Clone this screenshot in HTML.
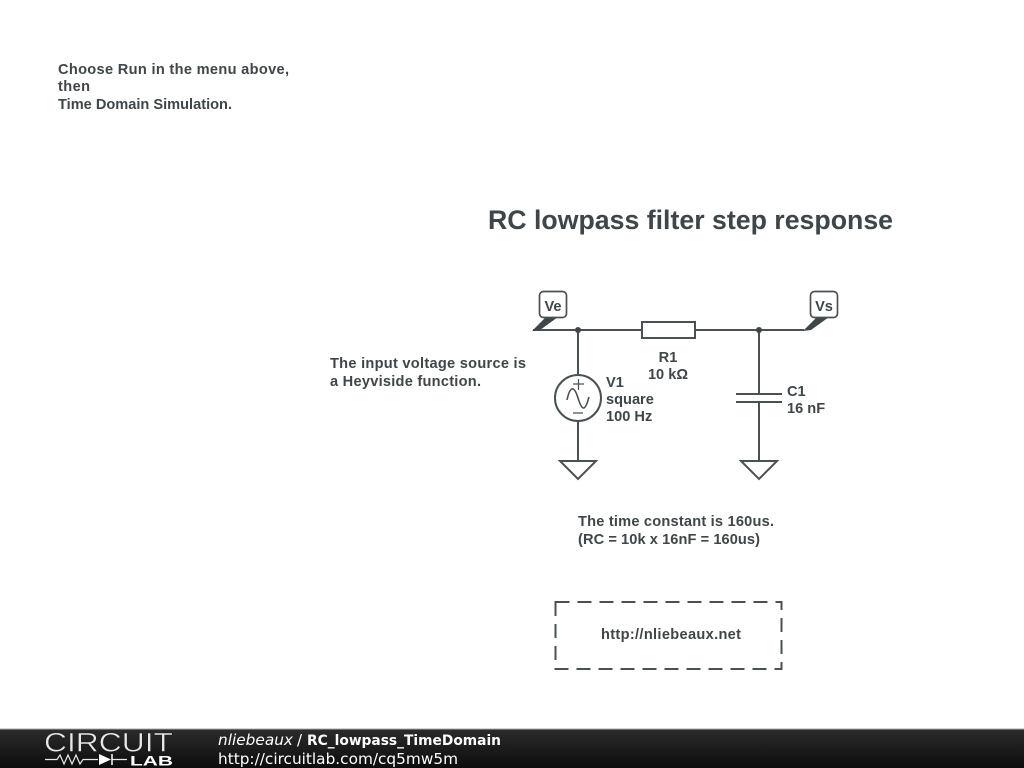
<!DOCTYPE html>
<html><head><meta charset="utf-8"><style>
html,body{margin:0;padding:0;background:#fff}
svg{display:block;filter:blur(0.35px)}
.t{font-family:"Liberation Sans",sans-serif;font-weight:bold;font-size:14.6px;fill:#3f4649}
.w{stroke:#4a5154;stroke-width:2;fill:none}
</style></head><body>
<svg width="1024" height="768" viewBox="0 0 1024 768" xmlns="http://www.w3.org/2000/svg">
<defs><linearGradient id="g" x1="0" y1="0" x2="0" y2="1"><stop offset="0" stop-color="#2c2c2c"/><stop offset="1" stop-color="#0c0c0c"/></linearGradient></defs>
<rect width="1024" height="768" fill="#fff"/>
<text class="t" x="58" y="74" textLength="231">Choose Run in the menu above,</text>
<text class="t" x="58" y="91" textLength="32">then</text>
<text class="t" x="58" y="109" textLength="174">Time Domain Simulation.</text>
<text class="t" x="488" y="229" style="font-size:26.7px" textLength="405">RC lowpass filter step response</text>
<text class="t" x="330" y="368" textLength="196">The input voltage source is</text>
<text class="t" x="330" y="386" textLength="151">a Heyviside function.</text>
<!-- wires -->
<path class="w" d="M533 330H642M695 330H804M578 330V376M578 421V461M759 330V393M759 403V461"/>
<rect class="w" x="642" y="322" width="53" height="16"/>
<circle cx="578" cy="330" r="3" fill="#3f4649"/>
<circle cx="759" cy="330" r="3" fill="#3f4649"/>
<!-- source -->
<circle class="w" cx="578" cy="398" r="23"/>
<path d="M567 400C570 386 574 385 578 398S585 412 589 397" fill="none" stroke="#4a5154" stroke-width="1.600"/>
<path d="M573 384H584M578.500 379V390M573 413H583" fill="none" stroke="#4a5154" stroke-width="1.200"/>
<!-- cap -->
<path class="w" d="M736 394H782M736 402H782"/>
<!-- grounds -->
<path class="w" d="M560 461H596L578 479Z"/>
<path class="w" d="M741 461H777L759 479Z"/>
<!-- tags -->
<path d="M532 331L546 317H558L540 330Z" fill="#3f4649"/>
<rect x="539.500" y="291.500" width="27" height="26" rx="4" fill="#fff" stroke="#4a5154" stroke-width="1.700"/>
<text class="t" x="553" y="311" text-anchor="middle">Ve</text>
<path d="M803 331L817 317H829L811 330Z" fill="#3f4649"/>
<rect x="810.500" y="291.500" width="27" height="26" rx="4" fill="#fff" stroke="#4a5154" stroke-width="1.700"/>
<text class="t" x="824" y="311" text-anchor="middle">Vs</text>
<!-- labels -->
<text class="t" x="668" y="362" text-anchor="middle">R1</text>
<text class="t" x="668" y="379" text-anchor="middle">10 kΩ</text>
<text class="t" x="606" y="387">V1</text>
<text class="t" x="606" y="404">square</text>
<text class="t" x="606" y="421">100 Hz</text>
<text class="t" x="787" y="396">C1</text>
<text class="t" x="787" y="413">16 nF</text>
<text class="t" x="578" y="526" textLength="196">The time constant is 160us.</text>
<text class="t" x="578" y="544" textLength="182">(RC = 10k x 16nF = 160us)</text>
<!-- dashed box -->
<rect x="555.500" y="602" width="226" height="67" fill="none" stroke="#4a5154" stroke-width="2" stroke-dasharray="14 8"/>
<text class="t" x="601" y="639" textLength="140">http://nliebeaux.net</text>
<!-- footer -->
<rect x="0" y="729" width="1024" height="39" fill="url(#g)"/>
<rect x="0" y="728.500" width="1024" height="1" fill="#aaa"/>
<text x="44" y="751.500" style="font-family:'Liberation Sans',sans-serif;font-size:27px" fill="#e8e8e8" textLength="129" lengthAdjust="spacingAndGlyphs" stroke="#1a1a1a" stroke-width="0.500">CIRCUIT</text>
<path d="M45 759.500H57L60 755L64 764L68 755L72 764L76 755L80 764L83 759.500H98M112 759.500H127" fill="none" stroke="#e8e8e8" stroke-width="1.200"/>
<path d="M99 754L111 759.500L99 765Z" fill="#fff"/>
<path d="M112 754V765" stroke="#fff" stroke-width="1.500"/>
<text x="130" y="765.500" style="font-family:'Liberation Sans',sans-serif;font-size:14px;font-weight:bold" fill="#fff" textLength="43" lengthAdjust="spacingAndGlyphs">LAB</text>
<text x="218" y="745" style="font-family:'DejaVu Sans',sans-serif;font-size:15px;font-style:italic" fill="#fff" textLength="75" lengthAdjust="spacingAndGlyphs">nliebeaux</text>
<text x="297" y="745" style="font-family:'DejaVu Sans',sans-serif;font-size:15px" fill="#fff">/</text>
<text x="307" y="745" style="font-family:'DejaVu Sans',sans-serif;font-size:14px;font-weight:bold" fill="#fff" textLength="194" lengthAdjust="spacingAndGlyphs">RC_lowpass_TimeDomain</text>
<text x="218" y="764" style="font-family:'DejaVu Sans',sans-serif;font-size:15px" fill="#fff" textLength="240" lengthAdjust="spacingAndGlyphs">http://circuitlab.com/cq5mw5m</text>
</svg>
</body></html>
